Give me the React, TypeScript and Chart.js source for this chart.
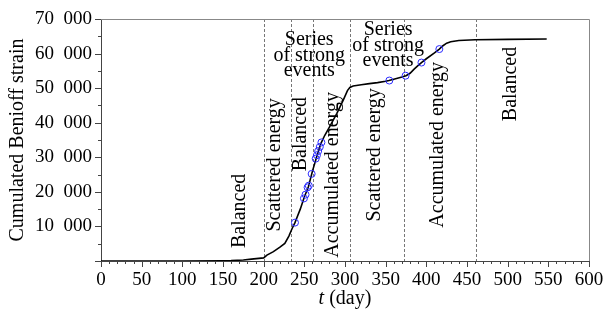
import React, { useEffect, useRef } from 'react';
import { Chart, registerables } from 'chart.js';

Chart.register(...registerables);

// Cumulated Benioff strain curve
const curveDays = [0, 20, 50, 100, 150, 160, 175, 185, 200, 204, 212, 220, 226, 231, 235, 238.5, 240, 245, 250, 255, 260, 265, 270, 275, 281, 290, 298, 303, 306, 310, 320, 330, 340, 350, 354, 360, 370, 375, 380, 385, 390, 394, 400, 410, 416, 420, 425, 430, 440, 460, 500, 548];
const curveValues = [0, 0, 0, 0, 50, 100, 300, 550, 900, 1700, 2700, 4000, 5100, 7200, 9400, 11100, 12000, 15000, 18500, 21500, 26000, 30000, 33800, 36300, 38800, 42700, 46600, 49300, 50200, 50600, 51000, 51300, 51600, 52000, 52200, 52600, 53200, 53600, 54300, 55500, 56600, 57400, 58500, 60200, 61300, 62200, 63000, 63400, 63800, 64000, 64100, 64200];

// strong events (blue circles)
const eventDays = [238.5, 249.5, 251.5, 254, 255.5, 259, 264, 265.5, 267, 269, 271, 354.5, 374.5, 394, 416];
const eventValues = [11100, 18100, 19200, 21300, 21800, 25200, 29600, 30600, 31800, 33000, 34300, 52200, 53600, 57400, 61300];

// phase boundaries (dashed lines)
const phaseBoundaries = [200, 233, 261, 306, 373, 461];

// phase labels (rotated)
const phaseLabels = ['Balanced', 'Scattered energy', 'Balanced', 'Accumulated energy', 'Scattered energy', 'Accumulated energy', 'Balanced'];
const phaseLabelDays = [171, 214, 246, 285, 337, 414, 504];
const phaseLabelValues = [14500, 27800, 36700, 24900, 30700, 33600, 51200];

// "Series of strong events" labels
const seriesLines = ['Series', 'of strong', 'events'];
const seriesLabelDays = [256, 353];
const seriesLabelTopValues = [63900, 66800];

// axes
const xMin = 0, xMax = 600, xStep = 50, xMinorStep = 10;
const yMin = 0, yMax = 70000, yStep = 10000, yMinorStep = 5000;
const yTitle = 'Cumulated Benioff strain';
const xTitleVar = 't';
const xTitleUnit = ' (day)';

const FONT = '"Liberation Serif", "Times New Roman", serif';

const fmtY = (v: number) => {
  if (v === 0) return '';
  const s = String(v);
  return s.slice(0, s.length - 3) + '\u2002' + s.slice(s.length - 3);
};

const decorPlugin = {
  id: 'decor',
  beforeDatasetsDraw(chart: any) {
    const { ctx, chartArea, scales } = chart;
    const x = scales.x;
    ctx.save();
    ctx.strokeStyle = '#777';
    ctx.lineWidth = 1;
    ctx.setLineDash([3, 2]);
    phaseBoundaries.forEach((d) => {
      const px = Math.round(x.getPixelForValue(d)) + 0.5;
      ctx.beginPath();
      ctx.moveTo(px, chartArea.top);
      ctx.lineTo(px, chartArea.bottom);
      ctx.stroke();
    });
    ctx.restore();
  },
  afterDraw(chart: any) {
    const { ctx, chartArea, scales } = chart;
    const x = scales.x;
    const y = scales.y;
    ctx.save();
    // box top and right
    ctx.strokeStyle = '#888';
    ctx.lineWidth = 1;
    ctx.beginPath();
    ctx.moveTo(chartArea.left, chartArea.top + 0.5);
    ctx.lineTo(chartArea.right + 0.5, chartArea.top + 0.5);
    ctx.lineTo(chartArea.right + 0.5, chartArea.bottom);
    ctx.stroke();
    // tick marks
    ctx.strokeStyle = '#444';
    ctx.beginPath();
    for (let d = xMin; d <= xMax; d += xMinorStep) {
      const px = Math.round(x.getPixelForValue(d)) + 0.5;
      const len = d % xStep === 0 ? 6 : 3;
      ctx.moveTo(px, chartArea.bottom);
      ctx.lineTo(px, chartArea.bottom + len);
    }
    for (let v = yMin; v <= yMax; v += yMinorStep) {
      const py = Math.round(y.getPixelForValue(v)) + 0.5;
      const len = v % yStep === 0 ? 6 : 3;
      ctx.moveTo(chartArea.left, py);
      ctx.lineTo(chartArea.left - len, py);
    }
    ctx.stroke();

    ctx.fillStyle = '#000';
    ctx.font = `20px ${FONT}`;
    ctx.textAlign = 'center';
    ctx.textBaseline = 'middle';
    // rotated phase labels
    phaseLabels.forEach((t, i) => {
      const px = x.getPixelForValue(phaseLabelDays[i]);
      const py = y.getPixelForValue(phaseLabelValues[i]);
      ctx.save();
      ctx.translate(px, py);
      ctx.rotate(-Math.PI / 2);
      ctx.fillText(t, 0, 0);
      ctx.restore();
    });
    // series labels
    seriesLabelDays.forEach((d, i) => {
      const px = x.getPixelForValue(d);
      const py0 = y.getPixelForValue(seriesLabelTopValues[i]);
      seriesLines.forEach((line, j) => {
        ctx.fillText(line, px, py0 + j * 15.5);
      });
    });
    // y title
    ctx.save();
    ctx.translate(18, (chartArea.top + chartArea.bottom) / 2 + 0);
    ctx.rotate(-Math.PI / 2);
    ctx.fillText(yTitle, 0, 0);
    ctx.restore();
    // x title
    ctx.font = `italic 20px ${FONT}`;
    const w1 = ctx.measureText(xTitleVar).width;
    ctx.font = `20px ${FONT}`;
    const w2 = ctx.measureText(xTitleUnit).width;
    const cx = (chartArea.left + chartArea.right) / 2;
    const startX = cx - (w1 + w2) / 2;
    const ty = 299;
    ctx.textAlign = 'left';
    ctx.font = `italic 20px ${FONT}`;
    ctx.fillText(xTitleVar, startX, ty);
    ctx.font = `20px ${FONT}`;
    ctx.fillText(xTitleUnit, startX + w1, ty);
    ctx.restore();
  },
};

export default function App() {
  const ref = useRef<HTMLCanvasElement | null>(null);
  useEffect(() => {
    if (!ref.current) return;
    const chart = new Chart(ref.current, {
      type: 'line',
      data: {
        datasets: [
          {
            type: 'scatter',
            data: eventDays.map((d, i) => ({ x: d, y: eventValues[i] })),
            showLine: false,
            pointRadius: 3.5,
            pointHoverRadius: 3.5,
            pointBorderWidth: 1,
            borderColor: '#2a2aff',
            backgroundColor: 'rgba(0,0,0,0)',
            pointBackgroundColor: 'rgba(0,0,0,0)',
            order: 0,
          } as any,
          {
            type: 'line',
            data: curveDays.map((d, i) => ({ x: d, y: curveValues[i] })),
            borderColor: '#000',
            borderWidth: 1.6,
            pointRadius: 0,
            tension: 0,
            fill: false,
            order: 1,
          },
        ],
      },
      options: {
        animation: false,
        responsive: true,
        maintainAspectRatio: false,
        layout: { padding: { left: 0, right: 16, top: 19, bottom: 0 } },
        plugins: { legend: { display: false }, tooltip: { enabled: false } },
        scales: {
          x: {
            type: 'linear',
            min: xMin,
            max: xMax,
            afterFit: (s: any) => { s.height = 50; s.paddingLeft = 0; s.paddingRight = 0; },
            grid: { display: false, drawTicks: false },
            border: { display: true, color: '#444', width: 1 },
            ticks: {
              stepSize: xStep,
              padding: 8,
              color: '#000',
              font: { family: FONT, size: 19 },
              maxRotation: 0,
              autoSkip: false,
            },
          },
          y: {
            type: 'linear',
            min: yMin,
            max: yMax,
            afterFit: (s: any) => { s.width = 101; s.paddingTop = 0; s.paddingBottom = 0; },
            grid: { display: false, drawTicks: false },
            border: { display: true, color: '#444', width: 1 },
            ticks: {
              stepSize: yStep,
              padding: 9,
              color: '#000',
              font: { family: FONT, size: 19 },
              callback: (v: any) => fmtY(Number(v)),
            },
          },
        },
      },
      plugins: [decorPlugin],
    });
    return () => chart.destroy();
  }, []);
  return (
    <div style={{ position: 'absolute', left: 0, top: 0, width: 605, height: 311 }}>
      <canvas ref={ref} />
    </div>
  );
}
